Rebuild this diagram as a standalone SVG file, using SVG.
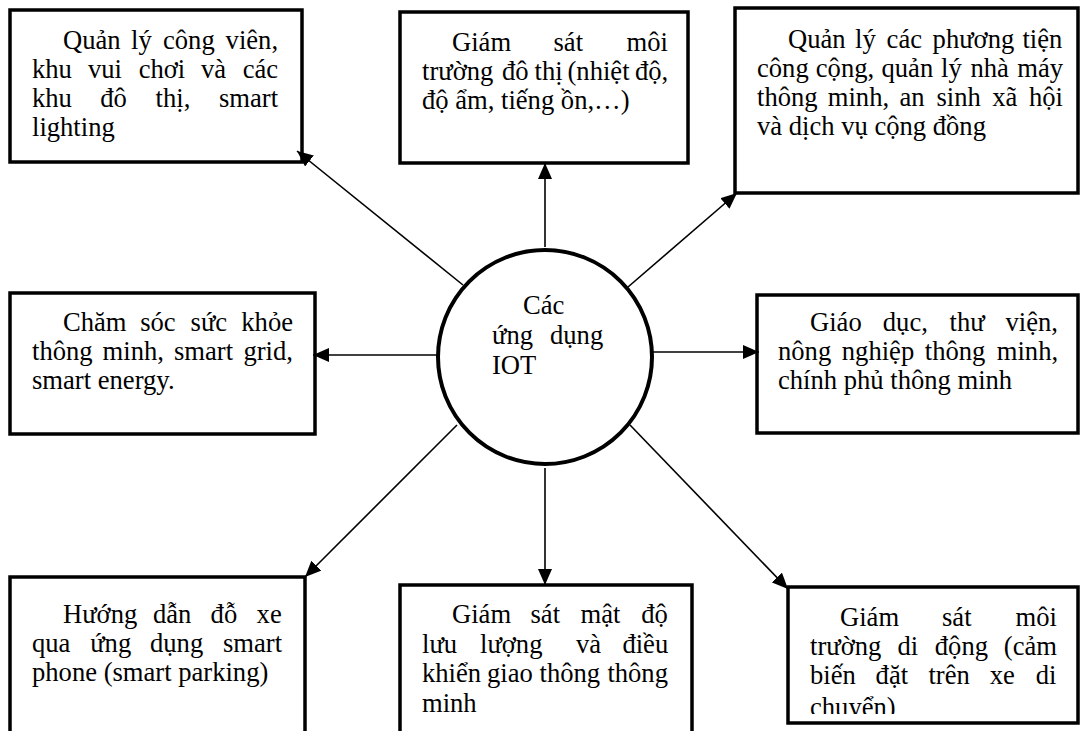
<svg xmlns="http://www.w3.org/2000/svg" width="1081" height="731" viewBox="0 0 1081 731">
<style>
.box{fill:#fff;stroke:#000;stroke-width:3.5}
.t{font-family:"Liberation Serif","Times New Roman",serif;font-size:26.6px;fill:#000}
.c{fill:none;stroke:#000;stroke-width:1.6}
</style>
<defs>
<marker id="ah" markerUnits="userSpaceOnUse" markerWidth="17" markerHeight="14" refX="16" refY="7" orient="auto">
<path d="M0,0 L16,7 L0,14 Z" fill="#000"/>
</marker>
<clipPath id="clip8"><rect x="788" y="587" width="292" height="127"/></clipPath>
</defs>
<rect width="1081" height="731" fill="#fff"/>

<g id="n1">
<rect class="box" x="10" y="10" width="292" height="152"/>
<text class="t"><tspan x="63" y="49">Quản</tspan><tspan x="131" y="49">lý</tspan><tspan x="163" y="49">công</tspan><tspan x="225.6" y="49">viên,</tspan>
<tspan x="32" y="78">khu</tspan><tspan x="88" y="78">vui</tspan><tspan x="138.7" y="78">chơi</tspan><tspan x="201" y="78">và</tspan><tspan x="242.7" y="78">các</tspan>
<tspan x="32" y="107">khu</tspan><tspan x="100.2" y="107">đô</tspan><tspan x="155.6" y="107">thị,</tspan><tspan x="219" y="107">smart</tspan>
<tspan x="32" y="136">lighting</tspan></text>
</g>

<g id="n2">
<rect class="box" x="400" y="12" width="288" height="151"/>
<text class="t"><tspan x="452" y="51">Giám</tspan><tspan x="553.5" y="51">sát</tspan><tspan x="626.6" y="51">môi</tspan>
<tspan x="422" y="80">trường</tspan><tspan x="502" y="80">đô</tspan><tspan x="534.5" y="80">thị</tspan><tspan x="567.5" y="80">(nhiệt</tspan><tspan x="635" y="80">độ,</tspan>
<tspan x="422" y="109">độ ẩm, tiếng ồn,…)</tspan></text>
</g>

<g id="n3">
<rect class="box" x="735" y="8" width="343" height="185"/>
<text class="t"><tspan x="788" y="48">Quản</tspan><tspan x="855" y="48">lý</tspan><tspan x="886.6" y="48">các</tspan><tspan x="932.6" y="48">phương</tspan><tspan x="1022.4" y="48">tiện</tspan>
<tspan x="757" y="77">công</tspan><tspan x="815.8" y="77">cộng,</tspan><tspan x="881.5" y="77">quản</tspan><tspan x="941" y="77">lý</tspan><tspan x="970.4" y="77">nhà</tspan><tspan x="1017.3" y="77">máy</tspan>
<tspan x="757" y="106">thông</tspan><tspan x="827.8" y="106">minh,</tspan><tspan x="899.4" y="106">an</tspan><tspan x="936.4" y="106">sinh</tspan><tspan x="992.2" y="106">xã</tspan><tspan x="1029" y="106">hội</tspan>
<tspan x="757" y="135">và dịch vụ cộng đồng</tspan></text>
</g>

<g id="n4">
<rect class="box" x="10" y="293" width="305" height="141"/>
<text class="t"><tspan x="63" y="331">Chăm</tspan><tspan x="140.2" y="331">sóc</tspan><tspan x="190.6" y="331">sức</tspan><tspan x="241.3" y="331">khỏe</tspan>
<tspan x="32" y="360">thông</tspan><tspan x="102.6" y="360">minh,</tspan><tspan x="174" y="360">smart</tspan><tspan x="243.4" y="360">grid,</tspan>
<tspan x="32" y="389">smart energy.</tspan></text>
</g>

<g id="n5">
<rect class="box" x="757" y="295" width="321" height="138"/>
<text class="t"><tspan x="810" y="331">Giáo</tspan><tspan x="882.8" y="331">dục,</tspan><tspan x="949.5" y="331">thư</tspan><tspan x="1005.5" y="331">viện,</tspan>
<tspan x="778" y="360">nông</tspan><tspan x="841.8" y="360">nghiệp</tspan><tspan x="924.8" y="360">thông</tspan><tspan x="996.8" y="360">minh,</tspan>
<tspan x="778" y="389">chính phủ thông minh</tspan></text>
</g>

<g id="n6">
<rect class="box" x="10" y="577" width="295" height="200"/>
<text class="t"><tspan x="63" y="623">Hướng</tspan><tspan x="153" y="623">dẫn</tspan><tspan x="210.6" y="623">đỗ</tspan><tspan x="256.6" y="623">xe</tspan>
<tspan x="32" y="652">qua</tspan><tspan x="90.2" y="652">ứng</tspan><tspan x="150" y="652">dụng</tspan><tspan x="223" y="652">smart</tspan>
<tspan x="32" y="681">phone (smart parking)</tspan></text>
</g>

<g id="n7">
<rect class="box" x="400" y="585" width="292" height="200"/>
<text class="t"><tspan x="452" y="623">Giám</tspan><tspan x="530.5" y="623">sát</tspan><tspan x="580.6" y="623">mật</tspan><tspan x="641.3" y="623">độ</tspan>
<tspan x="422" y="652.5">lưu</tspan><tspan x="480" y="652.5">lượng</tspan><tspan x="576" y="652.5">và</tspan><tspan x="622.4" y="652.5">điều</tspan>
<tspan x="422" y="682">khiển</tspan><tspan x="487" y="682">giao</tspan><tspan x="539.6" y="682">thông</tspan><tspan x="607.4" y="682">thông</tspan>
<tspan x="422" y="711.5">minh</tspan></text>
</g>

<g id="n8">
<rect class="box" x="788" y="587" width="290" height="136"/>
<text class="t" clip-path="url(#clip8)"><tspan x="840" y="626">Giám</tspan><tspan x="942" y="626">sát</tspan><tspan x="1015.6" y="626">môi</tspan>
<tspan x="810" y="655">trường</tspan><tspan x="897.5" y="655">di</tspan><tspan x="934.8" y="655">động</tspan><tspan x="1003.8" y="655">(cảm</tspan>
<tspan x="810" y="684">biến</tspan><tspan x="875.6" y="684">đặt</tspan><tspan x="928.4" y="684">trên</tspan><tspan x="989.8" y="684">xe</tspan><tspan x="1035.8" y="684">di</tspan>
<tspan x="810" y="716">chuyển)</tspan></text>
</g>

<g id="connectors">
<line class="c" x1="463" y1="285" x2="297" y2="151" marker-end="url(#ah)"/>
<line class="c" x1="545" y1="247" x2="545" y2="163" marker-end="url(#ah)"/>
<line class="c" x1="628" y1="287" x2="737" y2="193" marker-end="url(#ah)"/>
<line class="c" x1="438" y1="355" x2="313" y2="355" marker-end="url(#ah)"/>
<line class="c" x1="652" y1="352" x2="759" y2="352" marker-end="url(#ah)"/>
<line class="c" x1="457" y1="425" x2="305" y2="577" marker-end="url(#ah)"/>
<line class="c" x1="545" y1="468" x2="545" y2="585" marker-end="url(#ah)"/>
<line class="c" x1="630" y1="425" x2="788" y2="589" marker-end="url(#ah)"/>
</g>

<g id="center">
<circle cx="545" cy="357" r="107" fill="#fff" stroke="#000" stroke-width="4"/>
<text class="t"><tspan x="523" y="314">Các</tspan>
<tspan x="492" y="344">ứng</tspan><tspan x="550" y="344">dụng</tspan>
<tspan x="492" y="374">IOT</tspan></text>
</g>
</svg>
